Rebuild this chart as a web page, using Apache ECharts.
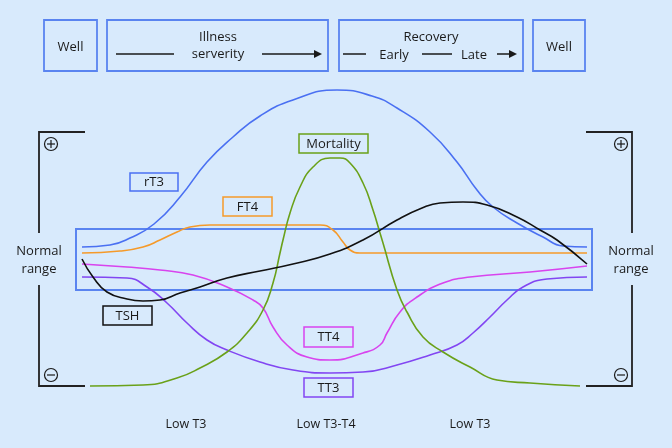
<!DOCTYPE html>
<html>
<head>
<meta charset="utf-8">
<script src="https://cdn.jsdelivr.net/npm/echarts@6/dist/echarts.min.js"></script>
<style>
html,body{margin:0;padding:0;background:#d8eafc;}
#chart{width:672px;height:448px;}
</style>
</head>
<body>
<div id="chart"></div>
<script>
// time axis: 0 = start, 505 = end ; level axis: 0 = middle of normal range
var rT3 = [[0,13],[28,15],[48,22],[72,36],[98,63],[125,98],[151,123],[178,144],[211,160],[255,170],[290,164],[315,152],[348,128],[375,98],[395,70],[411,53],[435,37],[461,23],[481,14],[505,13]];
var FT4 = [[0,7],[38,9],[61,13],[78,20],[95,28],[108,33],[128,35],[180,35],[238,35],[251,30],[261,18],[268,10],[278,7],[390,7],[505,7]];
var TSH = [[0,1],[11,-17],[25,-32],[45,-39],[61,-41],[78,-40],[98,-33],[118,-27],[145,-18],[178,-11],[211,-4],[248,6],[281,20],[315,40],[340,52],[358,57],[381,58],[405,55],[435,43],[458,30],[475,20],[505,-4]];
var TT4 = [[0,-4],[45,-7],[78,-10],[111,-15],[145,-27],[171,-40],[181,-48],[191,-67],[205,-85],[225,-97],[248,-100],[281,-93],[298,-85],[305,-73],[318,-52],[335,-37],[361,-23],[388,-17],[448,-12],[505,-6]];
var TT3 = [[0,-17],[45,-18],[65,-27],[85,-43],[105,-63],[125,-80],[145,-90],[178,-102],[211,-110],[248,-113],[281,-112],[315,-105],[348,-95],[375,-85],[391,-73],[408,-57],[425,-40],[441,-27],[465,-19],[505,-17]];
var Mortality = [[8,-126],[61,-125],[95,-118],[118,-108],[145,-92],[165,-73],[181,-50],[191,-23],[198,7],[201,20],[208,47],[218,73],[231,93],[248,102],[258,102],[268,97],[281,77],[291,50],[298,27],[301,17],[315,-30],[325,-52],[341,-77],[361,-92],[388,-107],[415,-120],[448,-123],[498,-126]];
var seriesNames = ['rT3','FT4','TSH','TT4','TT3','Mortality'];
var phaseLabels = ['Low T3','Low T3-T4','Low T3'];
var headerLabels = ['Well','Illness','serverity','Recovery','Early','Late','Well'];

var FONT = '"Open Sans", "Noto Sans", sans-serif';
var C = {rT3:'#4a70f2', FT4:'#f59a2a', TSH:'#111111', TT4:'#d844ee', TT3:'#8246f2', Mortality:'#6aa119', box:'#5a84f0', ink:'#1a1a1a'};

function line(name, data){
  return {name:name, type:'line', data:data, smooth:0.5, showSymbol:false, symbol:'none',
    lineStyle:{color:C[name], width:1.6}, itemStyle:{color:C[name]}, z:3, silent:true, animation:false};
}

var chart = echarts.init(document.getElementById('chart'), null, {renderer:'canvas'});

function txt(x,y,s,size,align){
  return {type:'text', x:x, y:y, style:{text:s, font:'normal '+(size||12.5)+'px '+FONT, fill:C.ink, align:align||'center', verticalAlign:'middle'}, z:10};
}
function rectBox(x1,y1,x2,y2,color,w){
  return {type:'rect', shape:{x:x1,y:y1,width:x2-x1,height:y2-y1}, style:{fill:'none', stroke:color, lineWidth:w||1.5}, z:10};
}
function pl(points,color,w){
  return {type:'polyline', shape:{points:points}, style:{stroke:color||C.ink, lineWidth:w||1.5, fill:null}, z:10};
}
function arrowHead(x,y){
  return {type:'polygon', shape:{points:[[x,y],[x-8,y-4],[x-8,y+4]]}, style:{fill:C.ink}, z:10};
}
function labelBox(x1,y1,x2,y2,name,s){
  return [rectBox(x1,y1,x2,y2,C[name],1.5), txt((x1+x2)/2,(y1+y2)/2+0.5,s,13)];
}
function sign(cx,cy,plus){
  var g=[{type:'circle', shape:{cx:cx,cy:cy,r:6.5}, style:{fill:'none', stroke:C.ink, lineWidth:1.2}, z:10},
    pl([[cx-4,cy],[cx+4,cy]],C.ink,1.2)];
  if(plus) g.push(pl([[cx,cy-4],[cx,cy+4]],C.ink,1.2));
  return g;
}

var graphics = [];
// header
graphics.push(rectBox(44,20,97,71,C.box,1.8), txt(70.5,47,headerLabels[0],13));
graphics.push(rectBox(107,20,328,71,C.box,1.8), txt(218,37,headerLabels[1],13), txt(218,54,headerLabels[2],13),
  pl([[116,54],[174,54]]), pl([[262,54],[318,54]]), arrowHead(322,54));
graphics.push(rectBox(339,20,523,71,C.box,1.8), txt(431,37,headerLabels[3],13), txt(394,55,headerLabels[4],13), txt(474,55,headerLabels[5],13),
  pl([[343,54],[366,54]]), pl([[422,54],[452,54]]), pl([[497,54],[512,54]]), arrowHead(517,54));
graphics.push(rectBox(533,20,585,71,C.box,1.8), txt(559,47,headerLabels[6],13));
// brackets
graphics.push(pl([[85,132],[39,132],[39,233]],'#222',1.8), pl([[39,285],[39,386],[85,386]],'#222',1.8));
graphics.push(pl([[586,132],[632,132],[632,233]],'#222',1.8), pl([[632,285],[632,386],[586,386]],'#222',1.8));
graphics = graphics.concat(sign(51,144,true), sign(51,375,false), sign(621,144,true), sign(621,375,false));
graphics.push(txt(39,251,'Normal',13), txt(39,269,'range',13), txt(631,251,'Normal',13), txt(631,269,'range',13));
// normal range box
graphics.push({type:'rect', shape:{x:76,y:229,width:516,height:61}, style:{fill:'none', stroke:C.box, lineWidth:2}, z:1});
// series labels
graphics = graphics.concat(labelBox(130,173,178,191,'rT3','rT3'), labelBox(223,197,272,216,'FT4','FT4'),
  labelBox(299,134,368,153,'Mortality','Mortality'), labelBox(103,306,152,325,'TSH','TSH'),
  labelBox(304,327,353,347,'TT4','TT4'), labelBox(304,378,353,397,'TT3','TT3'));
// phase labels
graphics.push(txt(186,424,phaseLabels[0],12.5), txt(326,424,phaseLabels[1],12.5), txt(470,424,phaseLabels[2],12.5));

var option = {
  backgroundColor:'#d8eafc',
  animation:false,
  grid:{left:82, right:85, top:60, bottom:58},
  xAxis:{type:'value', min:0, max:505, show:false},
  yAxis:{type:'value', min:-130, max:200, show:false},
  series:[line('rT3',rT3), line('FT4',FT4), line('TT4',TT4), line('TT3',TT3), line('Mortality',Mortality), line('TSH',TSH)],
  graphic:graphics
};
chart.setOption(option);
</script>
</body>
</html>
